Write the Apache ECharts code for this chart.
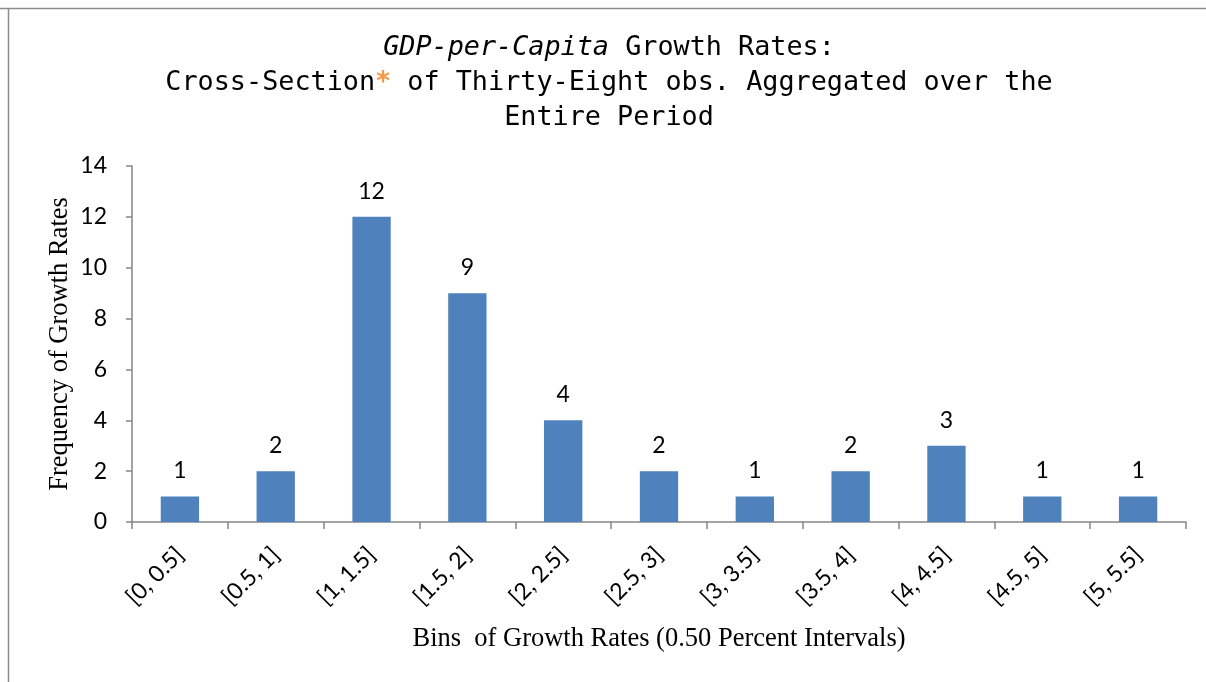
<!DOCTYPE html>
<html>
<head>
<meta charset="utf-8">
<script src="https://cdn.jsdelivr.net/npm/echarts@6/dist/echarts.min.js"></script>
<style>
  html, body { margin: 0; padding: 0; background: #fff; }
  #chart { width: 1206px; height: 682px; }
</style>
</head>
<body>
<div id="chart"></div>
<script>
// Histogram bins of growth rates (percent)
const bins = ['[0, 0.5]', '[0.5, 1]', '[1, 1.5]', '[1.5, 2]', '[2, 2.5]', '[2.5, 3]',
              '[3, 3.5]', '[3.5, 4]', '[4, 4.5]', '[4.5, 5]', '[5, 5.5]'];
// Number of observations falling in each bin
const frequencies = [1, 2, 12, 9, 4, 2, 1, 2, 3, 1, 1];
// Frequency axis range
const yMin = 0, yMax = 14, yStep = 2;

const chart = echarts.init(document.getElementById('chart'));
const mono = '"DejaVu Sans Mono", monospace';
const sans = 'Lato, "Open Sans", sans-serif';
const serif = '"Liberation Serif", "DejaVu Serif", serif';

const titleText = '{it|GDP-per-Capita} Growth Rates:\n' +
  'Cross-Section{star|*} of Thirty-Eight obs. Aggregated over the\n' +
  'Entire Period';

chart.setOption({
  backgroundColor: '#ffffff',
  animation: false,
  graphic: [
    { type: 'line', shape: { x1: 0, y1: 8.5, x2: 1206, y2: 8.5 }, style: { stroke: '#8c8c8c', lineWidth: 1.5 } },
    { type: 'line', shape: { x1: 8.5, y1: 8, x2: 8.5, y2: 682 }, style: { stroke: '#8c8c8c', lineWidth: 1.5 } },
    {
      type: 'text',
      x: 609,
      y: 31,
      style: {
        text: titleText,
        align: 'center',
        verticalAlign: 'top',
        fontFamily: mono,
        fontSize: 26.8,
        fill: '#000',
        lineHeight: 35,
        rich: {
          it: { fontFamily: mono, fontSize: 26.8, fontStyle: 'italic', fill: '#000', lineHeight: 35 },
          star: { fontFamily: mono, fontSize: 26.8, fontWeight: 'bold', fill: '#F79646', lineHeight: 35 }
        }
      }
    }
  ],
  grid: { left: 132, right: 20, top: 166, bottom: 160 },
  xAxis: {
    type: 'category',
    data: bins,
    boundaryGap: true,
    name: 'Bins  of Growth Rates (0.50 Percent Intervals)',
    nameLocation: 'middle',
    nameGap: 104,
    nameTextStyle: { fontFamily: serif, fontSize: 26.5, color: '#000' },
    axisLine: { lineStyle: { color: '#868686', width: 1.5 } },
    axisTick: { show: true, length: 7, alignWithLabel: false, lineStyle: { color: '#868686', width: 1.5 } },
    axisLabel: { rotate: 45, fontFamily: sans, fontSize: 23, color: '#000', margin: 29, interval: 0 }
  },
  yAxis: {
    type: 'value',
    min: yMin,
    max: yMax,
    interval: yStep,
    name: 'Frequency of Growth Rates',
    nameLocation: 'middle',
    nameGap: 58,
    nameMoveOverlap: false,
    nameTextStyle: { fontFamily: serif, fontSize: 26.5, color: '#000' },
    axisLine: { show: true, lineStyle: { color: '#868686', width: 1.5 } },
    axisTick: { show: true, length: 6, lineStyle: { color: '#868686', width: 1.5 } },
    splitLine: { show: false },
    axisLabel: { fontFamily: sans, fontSize: 23, color: '#000', margin: 25 }
  },
  series: [{
    type: 'bar',
    data: frequencies,
    barWidth: '40%',
    itemStyle: { color: '#4F81BD' },
    label: {
      show: true,
      position: 'top',
      distance: 14,
      fontFamily: sans,
      fontSize: 23,
      color: '#000'
    }
  }]
});
</script>
</body>
</html>
